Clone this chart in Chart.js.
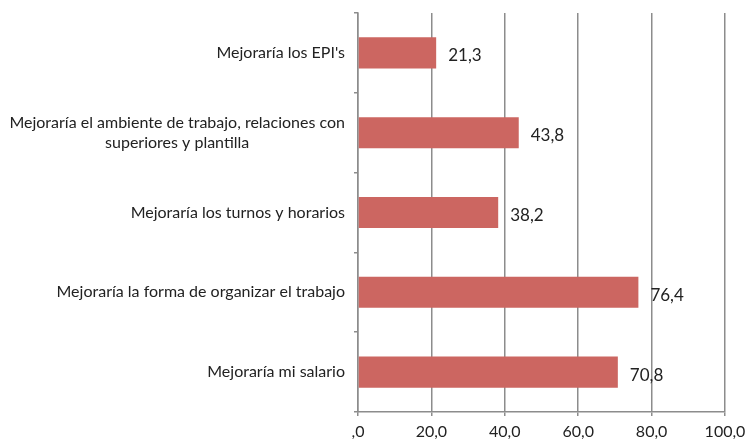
<!DOCTYPE html>
<html>
<head>
<meta charset="utf-8">
<script src="https://cdn.jsdelivr.net/npm/chart.js@4/dist/chart.umd.min.js"></script>
<style>
  html, body { margin: 0; padding: 0; background: #fff; }
  #wrap { width: 748px; height: 442px; }
</style>
</head>
<body>
<div id="wrap"><canvas id="bar-chart" width="748" height="442"></canvas></div>
<script>
// Categories (top to bottom) and values
const categories = [
    ["Mejoraría los EPI's"],
    ["Mejoraría el ambiente de trabajo, relaciones con", "superiores y plantilla"],
    ["Mejoraría los turnos y horarios"],
    ["Mejoraría la forma de organizar el trabajo"],
    ["Mejoraría mi salario"]
];
const values = [21.3, 43.8, 38.2, 76.4, 70.8];
const xTicks = [0, 20, 40, 60, 80, 100];

const FONT = 'Lato, "Liberation Sans", sans-serif';
const fmt = v => v === 0 ? ',0' : v.toFixed(1).replace('.', ',');

// Draws category labels (block right-aligned, lines centered) and value labels
const labelPlugin = {
    id: 'labels',
    afterDraw(chart) {
        const c = chart.ctx;
        const y = chart.scales.y;
        const x = chart.scales.x;
        c.save();
        c.fillStyle = '#222';
        c.textBaseline = 'middle';
        c.font = '16px ' + FONT;
        categories.forEach((lines, i) => {
            const cy = y.getPixelForValue(i);
            const w = Math.max(...lines.map(l => c.measureText(l).width));
            const right = chart.chartArea.left - 13;
            const cx = right - w / 2;
            c.textAlign = 'center';
            const lh = 20;
            lines.forEach((l, j) => {
                c.fillText(l, cx, cy + (j - (lines.length - 1) / 2) * lh);
            });
        });
        c.font = '17px ' + FONT;
        c.textAlign = 'left';
        values.forEach((v, i) => {
            c.fillText(fmt(v), x.getPixelForValue(v) + 12, y.getPixelForValue(i) + 3);
        });
        c.restore();
    }
};

const ctx = document.getElementById('bar-chart').getContext('2d');
const myChart = new Chart(ctx, {
    type: 'bar',
    data: {
        labels: categories.map(l => l.join(' ')),
        datasets: [{
            data: values,
            backgroundColor: '#cc6661',
            borderWidth: 0,
            categoryPercentage: 1,
            barPercentage: 0.39
        }]
    },
    options: {
        indexAxis: 'y',
        responsive: false,
        animation: false,
        layout: { padding: { top: 13, right: 23, left: 1, bottom: 0 } },
        plugins: { legend: { display: false }, tooltip: { enabled: false } },
        scales: {
            x: {
                min: 0,
                max: 100,
                afterBuildTicks: s => { s.ticks = xTicks.map(v => ({ value: v })); },
                afterFit: s => { s.height = 30; s.paddingRight = 0; s.paddingLeft = 0; },
                grid: { color: '#8c8c8c', lineWidth: 1.5, tickLength: 4, drawTicks: true },
                border: { color: '#8c8c8c', width: 1.5 },
                ticks: {
                    padding: 6,
                    color: '#222',
                    font: { family: FONT, size: 16 },
                    callback: v => fmt(v)
                }
            },
            y: {
                afterFit: s => { s.width = 357; },
                grid: { display: true, drawOnChartArea: false, color: '#8c8c8c', lineWidth: 1.5, tickLength: 4, offset: true },
                border: { color: '#8c8c8c', width: 1.5 },
                ticks: { display: false }
            }
        }
    },
    plugins: [labelPlugin]
});
</script>
</body>
</html>
